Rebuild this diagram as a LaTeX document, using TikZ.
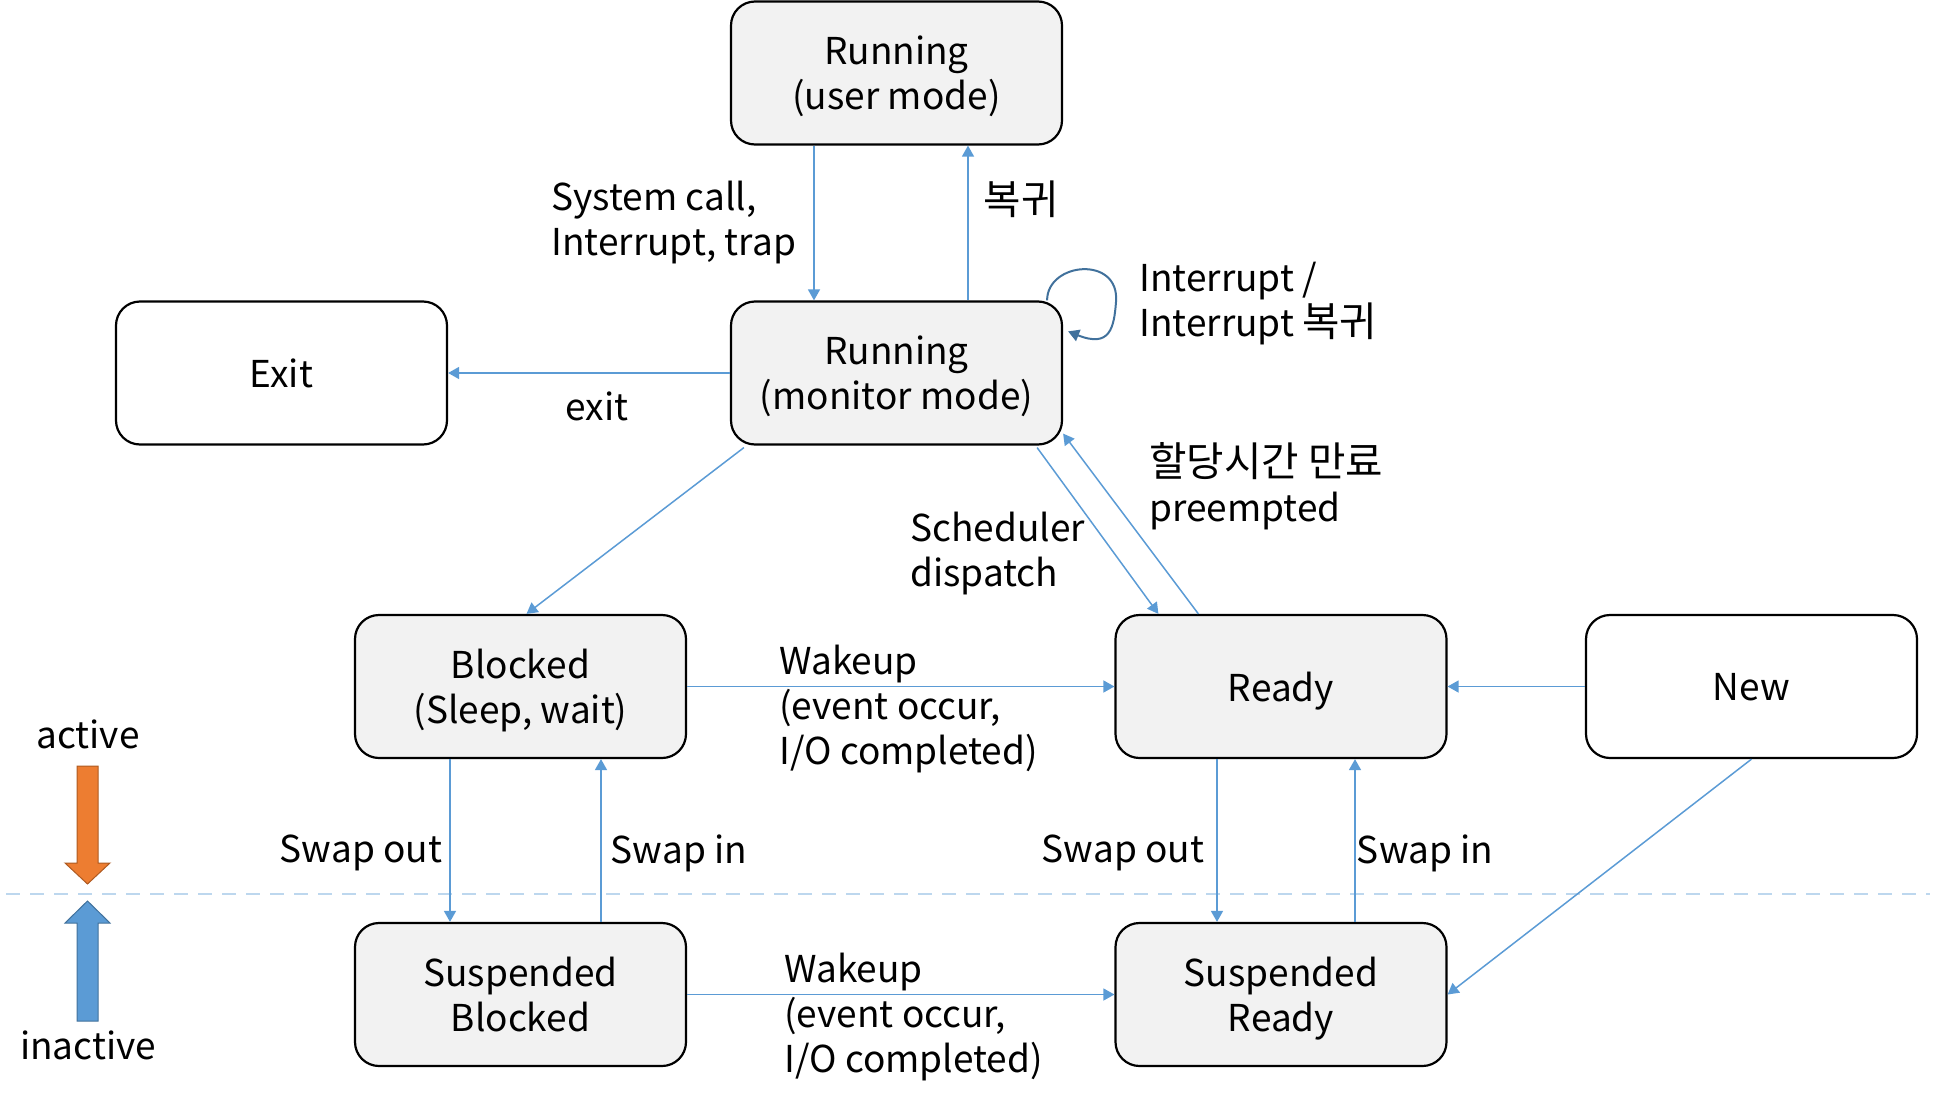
\documentclass[tikz,border=0pt]{standalone}
\usepackage{fontspec}
\setmainfont{Noto Sans CJK KR}
\newfontfamily\krfont{Noto Sans CJK KR}[Scale=1.1]
\usetikzlibrary{arrows.meta,calc}
\definecolor{boxgray}{HTML}{F2F2F2}
\definecolor{conncol}{HTML}{5B9BD5}
\definecolor{loopcol}{HTML}{41719C}
\definecolor{dashcol}{HTML}{BDD7EE}
\definecolor{orangefill}{HTML}{ED7D31}
\definecolor{orangeline}{HTML}{AE5A21}
\definecolor{bluefill}{HTML}{5B9BD5}
\begin{document}
\begin{tikzpicture}[x=0.5pt,y=-0.5pt,
  every node/.style={font=\fontsize{18.5}{22.5}\selectfont},
  statebox/.style={draw=black, line width=1.1pt, rounded corners=12pt, minimum width=165.5pt, minimum height=71.5pt, align=center, inner sep=0pt, fill=boxgray, text depth=0pt},
  whitebox/.style={statebox, fill=white},
  conn/.style={draw=conncol, line width=0.75pt, -{Triangle[length=5.5pt,width=6pt]}},
  lbl/.style={align=left, inner sep=0pt},
  lblc/.style={align=center, inner sep=0pt}]
\useasboundingbox (0,0) rectangle (1933,1103);
% dashed separator
\coordinate (dl) at (6,894);
\coordinate (dr) at (1930,894);
\draw[dashcol, line width=1pt, dash pattern=on 7pt off 5pt] (dl) -- (dr);
% states
\node[statebox] (user) at (896.5,73) {Running\\(user mode)};
\node[statebox] (mon) at (896.5,373) {Running\\(monitor mode)};
\node[whitebox] (exit) at (281.5,373) {Exit};
\node[statebox] (blk) at (520.5,686.5) {Blocked\\(Sleep, wait)};
\node[statebox] (rdy) at (1281,686.5) {Ready};
\node[whitebox] (new) at (1751.5,686.5) {New};
\node[statebox] (sblk) at (520.5,994.5) {Suspended\\Blocked};
\node[statebox] (srdy) at (1281,994.5) {Suspended\\Ready};
% connectors
\draw[conn] ($(user.south)+(-82.5,0)$) -- ($(mon.north)+(-82.5,0)$);
\draw[conn] ($(mon.north)+(71.5,0)$) -- ($(user.south)+(71.5,0)$);
\draw[conn] (mon.west) -- (exit.east);
\draw[conn] ($(mon.south west)+(14,2)$) -- ($(blk.north)+(6,0)$);
\draw[conn] ($(mon.south east)+(-26,2)$) -- ($(rdy.north west)+(44,0)$);
\draw[conn] ($(rdy.north west)+(84,0)$) -- ($(mon.south east)+(0,-12)$);
\draw[conn] (blk.east) -- (rdy.west);
\draw[conn] (new.west) -- (rdy.east);
\draw[conn] ($(blk.south)+(-70.5,0)$) -- ($(sblk.north)+(-70.5,0)$);
\draw[conn] ($(sblk.north)+(80.5,0)$) -- ($(blk.south)+(80.5,0)$);
\draw[conn] ($(rdy.south)+(-64,0)$) -- ($(srdy.north)+(-64,0)$);
\draw[conn] ($(srdy.north)+(74,0)$) -- ($(rdy.south)+(74,0)$);
\draw[conn] (sblk.east) -- (srdy.west);
\draw[conn] (new.south) -- (srdy.east);
% self loop
\coordinate (ls) at ($(mon.north east)+(-16,0)$);
\coordinate (le) at ($(mon.north east)+(5,31)$);
\draw[loopcol, line width=1pt, -{Triangle[length=5.5pt,width=6pt]}]
  (ls) .. controls (1047,262) and (1120,255) .. (1116,302)
       .. controls (1114,328) and (1110,348) .. (le);
% labels
\node[lbl, anchor=west] (l1) at (551,223) {System call,\\Interrupt, trap};
\node[lblc] (l2) at (1021,199) {\krfont 복귀};
\node[lbl, anchor=west] (l3) at (1139,304) {Interrupt /\\Interrupt {\krfont 복귀}};
\node[lblc] (l4) at (597,406) {exit};
\node[lbl, anchor=west] (l5) at (910,554) {Scheduler\\dispatch};
\node[lbl, anchor=west] (l6) at (1149,486) {{\krfont 할당시간 만료}\\preempted};
\node[lbl, anchor=west] (l7) at (779,709) {Wakeup\\(event occur,\\I/O completed)};
\node[lbl, anchor=west] (l8) at (784,1017) {Wakeup\\(event occur,\\I/O completed)};
\node[lblc] (l9) at (361,853) {Swap out};
\node[lblc] (l10) at (679,853) {Swap in};
\node[lblc] (l11) at (1123,853) {Swap out};
\node[lblc] (l12) at (1425,853) {Swap in};
\node[lblc] (l13) at (88,734) {active};
\node[lblc] (l14) at (88,1045) {inactive};
% active / inactive arrows
\draw[fill=orangefill, draw=orangeline, line width=0.5pt]
  (77,766) -- (98,766) -- (98,863) -- (110,863) -- (87.5,884) -- (65,863) -- (77,863) -- cycle;
\draw[fill=bluefill, draw=loopcol, line width=0.5pt]
  (77,1021) -- (98,1021) -- (98,923) -- (110,923) -- (87.5,901) -- (65,923) -- (77,923) -- cycle;
\end{tikzpicture}
\end{document}
